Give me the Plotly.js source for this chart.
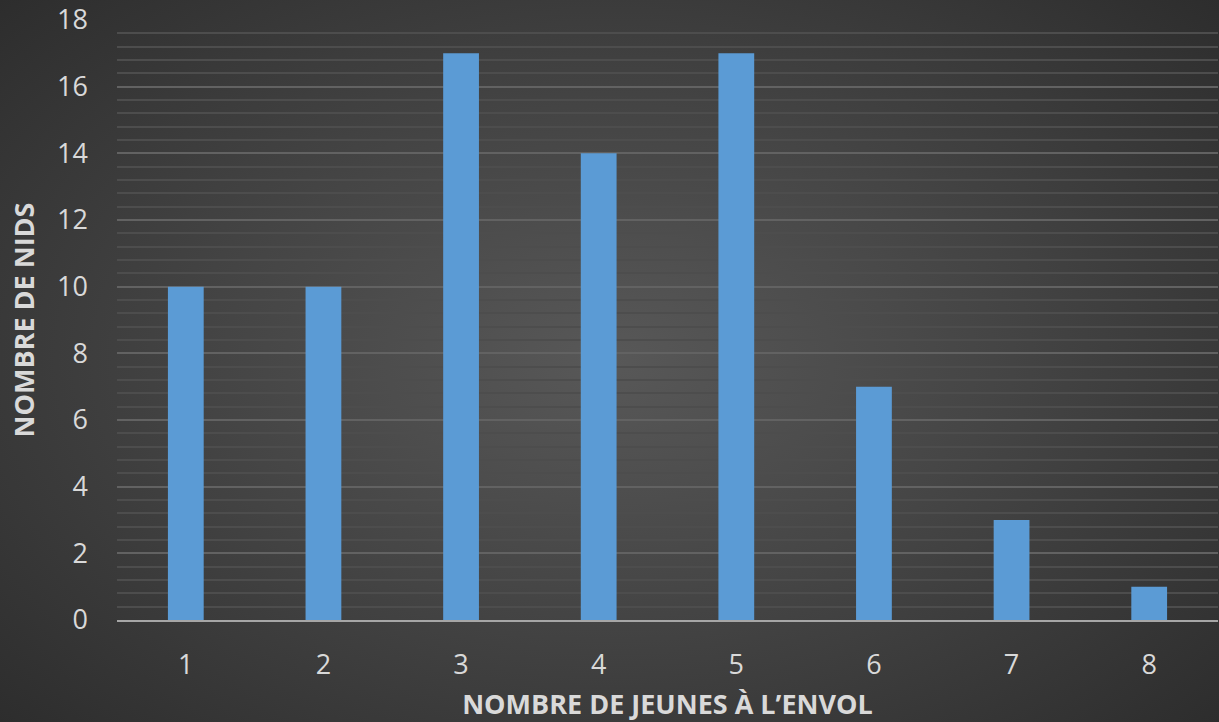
<!DOCTYPE html>
<html>
<head>
<meta charset="utf-8">
<script src="https://cdn.plot.ly/plotly-3.0.1.min.js"></script>
<style>
  html, body { margin: 0; padding: 0; }
  #chart {
    width: 1219px; height: 722px;
    background: radial-gradient(ellipse 70% 75% at 50% 50%, #585858 0%, #454545 45%, #2c2c2c 100%);
  }
</style>
</head>
<body>
<div id="chart"></div>
<script>
const categories = ["1", "2", "3", "4", "5", "6", "7", "8"];
const nids = [10, 10, 17, 14, 17, 7, 3, 1];
const yTitle = "NOMBRE DE NIDS";
const xTitle = "NOMBRE DE JEUNES À L’ENVOL";

const trace = {
  type: "bar",
  x: categories,
  y: nids,
  marker: { color: "#5b9bd5", line: { width: 0 } },
  hoverinfo: "x+y"
};

const layout = {
  width: 1219, height: 722,
  paper_bgcolor: "rgba(0,0,0,0)",
  plot_bgcolor: "rgba(0,0,0,0)",
  margin: { l: 117, r: 1, t: 20, b: 102 },
  bargap: 0.74,
  showlegend: false,
  font: { family: "Open Sans, sans-serif", color: "#d9d9d9" },
  xaxis: {
    type: "category",
    showgrid: false,
    showline: true,
    linecolor: "#a6a6a6",
    linewidth: 2,
    ticks: "",
    ticklabelstandoff: 20,
    tickfont: { size: 27, color: "#d9d9d9" },
    title: { text: xTitle, font: { size: 27, color: "#d9d9d9", weight: "bold" }, standoff: 19 },
    automargin: true
  },
  yaxis: {
    range: [0, 18],
    dtick: 2,
    showgrid: true,
    gridcolor: "#626262",
    gridwidth: 2,
    zeroline: false,
    showline: false,
    ticks: "",
    ticklabelstandoff: 28,
    tickfont: { size: 27, color: "#d9d9d9" },
    minor: { dtick: 0.4, showgrid: true, gridcolor: "#4d4d4d", gridwidth: 2 },
    title: { text: yTitle, font: { size: 27, color: "#d9d9d9", weight: "bold" }, standoff: 14 },
    automargin: true
  }
};

Plotly.newPlot("chart", [trace], layout, { displayModeBar: false });
</script>
</body>
</html>
